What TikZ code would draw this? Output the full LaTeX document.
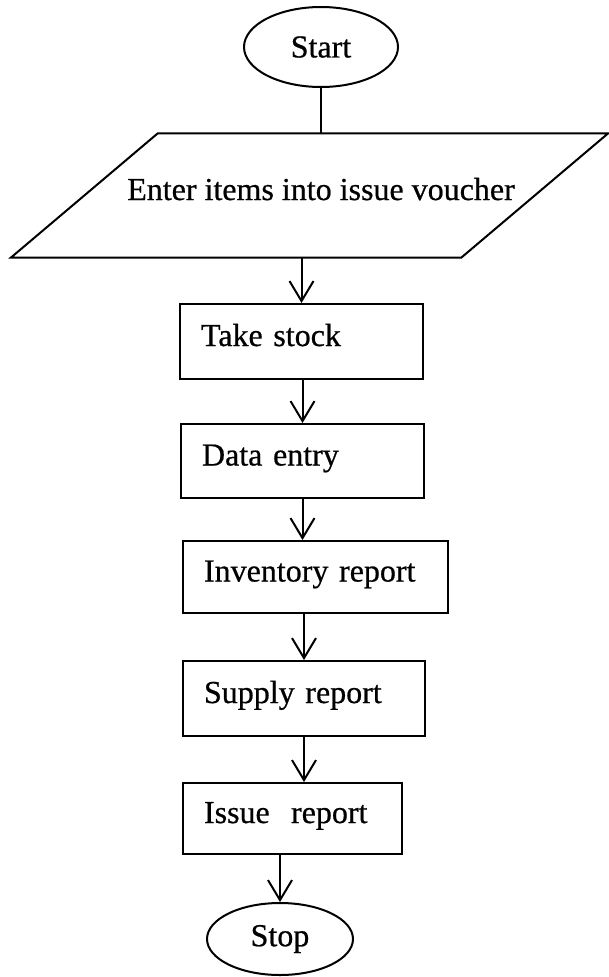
\documentclass[tikz,border=0pt]{standalone}
\usepackage{fontspec}
\setmainfont[FakeBold=0.6]{Liberation Serif}
\usetikzlibrary{shapes.geometric,arrows.meta}

\tikzset{
  flow/.style={draw, line width=2pt},
  lbl/.style={font=\fontsize{32}{38}\selectfont},
  terminal/.style={flow, lbl, ellipse, minimum width=146pt, minimum height=75pt, inner sep=0pt},
  inputarea/.style={rectangle, minimum width=597pt, minimum height=124pt, inner sep=0pt},
  stepbox/.style={flow, lbl, rectangle, inner xsep=21pt, inner ysep=0pt, align=left,
    text height=21pt, text depth=12pt},
  arr/.style={line width=2pt, -{Straight Barb[length=20pt,width=24pt,line width=2pt]}},
}

\begin{document}
\begin{tikzpicture}[x=1pt, y=-1pt]
  \useasboundingbox (0,0) rectangle (609,977);

  % terminals
  \node[terminal, minimum width=154pt, minimum height=80pt] (start) at (321,47) {Start};
  \node[terminal, minimum height=72pt] (stop) at (280,939) {Stop};

  % input parallelogram (slanted sides 146pt wide) and its text
  \node[inputarea] (inp) at (309.5,195.5) {};
  \draw[flow, line join=miter] (inp.south west) -- ([xshift=147pt]inp.north west)
    -- (inp.north east) -- ([xshift=-147pt]inp.south east) -- cycle;
  \node[lbl, anchor=base, inner sep=0pt] (inptext) at (321,200) {Enter items into issue voucher};

  % process steps
  \node[stepbox, text width=201pt, minimum height=75pt] (ts)  at (301.5,341.5) {Take stock};
  \node[stepbox, text width=201pt, minimum height=74pt] (de)  at (302.5,461)   {Data entry};
  \node[stepbox, text width=223pt, minimum height=72pt] (inv) at (315.5,577)   {Inventory report};
  \node[stepbox, text width=200pt, minimum height=75pt] (sup) at (304,698.5)   {Supply report};
  \node[stepbox, text width=177pt, minimum height=71pt] (iss) at (292.5,818.5) {Issue~ report};

  % connectors
  \draw[line width=2pt] (start.south) -- (start.south |- inp.north);
  \draw[arr] (ts.north |- inp.south) -- (ts.north);
  \draw[arr] (de.north |- ts.south) -- (de.north);
  \draw[arr] (de.south) -- (de.south |- inv.north);
  \draw[arr] (sup.north |- inv.south) -- (sup.north);
  \draw[arr] (sup.south) -- (sup.south |- iss.north);
  \draw[arr] (stop.north |- iss.south) -- (stop.north);
\end{tikzpicture}
\end{document}
